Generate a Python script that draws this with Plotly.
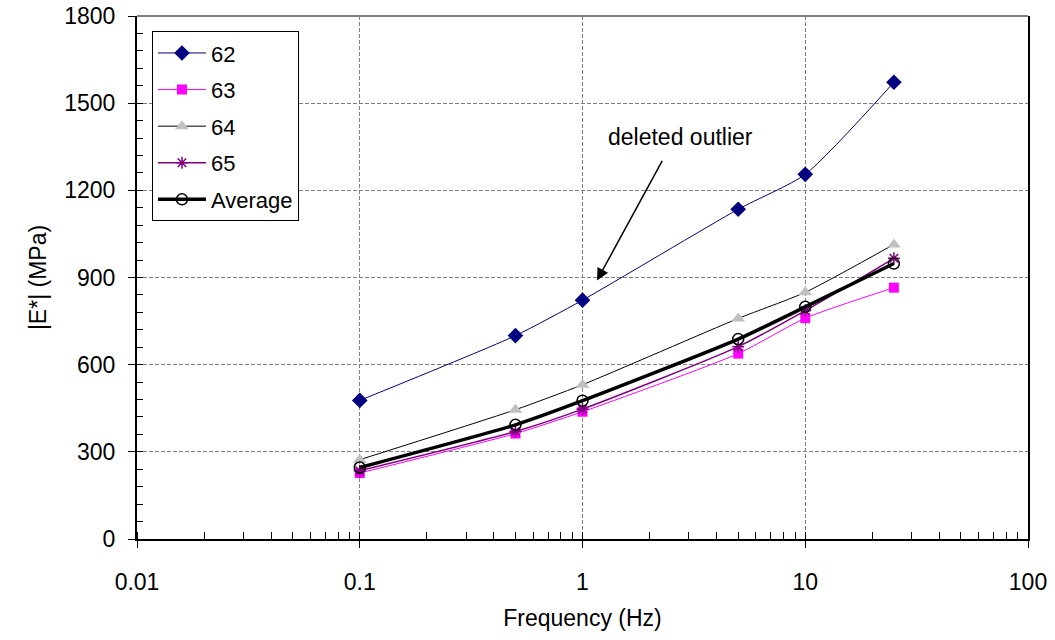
import plotly.graph_objects as go

freq = [0.1, 0.5, 1, 5, 10, 25]
s62 = [477, 700, 822, 1135, 1255, 1572]
s63 = [227, 363, 438, 638, 760, 865]
s64 = [273, 445, 531, 759, 849, 1014]
s65 = [235, 370, 447, 662, 786, 966]
avg = [246, 393, 476, 688, 799, 948]

x_ticks = [0.01, 0.1, 1, 10, 100]
x_ticklabels = ["0.01", "0.1", "1", "10", "100"]
y_ticks = [0, 300, 600, 900, 1200, 1500, 1800]

FONT = "Liberation Sans, Arial, sans-serif"
FS = 23

fig = go.Figure()
fig.add_trace(go.Scatter(x=freq, y=s62, name="62", mode="lines+markers", legendgroup="a",
                         line=dict(color="#000080", width=1, shape="spline", smoothing=0.6),
                         marker=dict(symbol="diamond", size=12, color="#000080")))
fig.add_trace(go.Scatter(x=freq, y=s63, name="63", mode="lines+markers", legendgroup="b",
                         line=dict(color="#FF00FF", width=1, shape="spline", smoothing=0.6),
                         marker=dict(symbol="square", size=10, color="#FF00FF")))
fig.add_trace(go.Scatter(x=freq, y=s64, name="64", mode="lines+markers", legendgroup="c",
                         line=dict(color="#000000", width=1, shape="spline", smoothing=0.6),
                         marker=dict(symbol="triangle-up", size=12, color="#C0C0C0")))
fig.add_trace(go.Scatter(x=freq, y=s65, name="65", mode="lines+markers", legendgroup="d",
                         line=dict(color="#800080", width=1.5, shape="spline", smoothing=0.6),
                         marker=dict(symbol="asterisk-open", size=10,
                                     line=dict(color="#800080", width=1.5))))
fig.add_trace(go.Scatter(x=freq, y=avg, name="Average", mode="lines+markers", legendgroup="e",
                         line=dict(color="#000000", width=3.5, shape="spline", smoothing=0.6),
                         marker=dict(symbol="circle-open", size=11,
                                     line=dict(color="#000000", width=1.5))))

fig.add_annotation(x=0.0652, y=890, xref="x", yref="y", ax=66, ay=-121,
                   text="", showarrow=True, arrowhead=2, arrowsize=1.6,
                   arrowwidth=1.5, arrowcolor="#000000")
fig.add_annotation(x=0.438, y=1383, xref="x", yref="y", text="deleted outlier",
                   showarrow=False, font=dict(size=FS, color="#000000", family=FONT))

fig.add_shape(type="line", xref="paper", yref="paper", x0=0, x1=1, y0=1, y1=1,
              line=dict(color="#808080", width=2))

fig.update_layout(
    width=1055, height=640,
    margin=dict(l=137, r=27, t=16, b=101),
    paper_bgcolor="white", plot_bgcolor="white",
    font=dict(family=FONT, size=FS, color="#000000"),
    showlegend=True,
    legend=dict(x=0.0168, y=0.971, xanchor="left", yanchor="top",
                bgcolor="white", bordercolor="#000000", borderwidth=1,
                tracegroupgap=5, itemwidth=48,
                font=dict(size=22, family=FONT)),
)
fig.update_xaxes(type="log", range=[-2, 2], tickvals=x_ticks, ticktext=x_ticklabels,
                 automargin=False,
                 showline=True, linecolor="#000000", linewidth=2, mirror=False,
                 ticks="outside", ticklen=7, tickcolor="#000000", ticklabelstandoff=14,
                 showgrid=True, gridcolor="#808080", griddash="4px,2px", gridwidth=1,
                 zeroline=False,
                 minor=dict(ticks="inside", ticklen=7, tickcolor="#000000",
                            dtick="D1", showgrid=False),
                 title=dict(text="Frequency (Hz)", standoff=16, font=dict(size=FS)))
fig.update_yaxes(range=[0, 1800], tickvals=y_ticks, automargin=False,
                 showline=True, linecolor="#000000", linewidth=2, mirror=True,
                 ticks="outside", ticklen=7, tickcolor="#000000", ticklabelstandoff=8,
                 showgrid=True, gridcolor="#808080", griddash="4px,2px", gridwidth=1,
                 zeroline=False,
                 minor=dict(ticks="inside", ticklen=6, tickcolor="#000000",
                            dtick=60, showgrid=False),
                 title=dict(text="|E*| (MPa)", standoff=11, font=dict(size=FS)))

fig.write_html("out.html")
